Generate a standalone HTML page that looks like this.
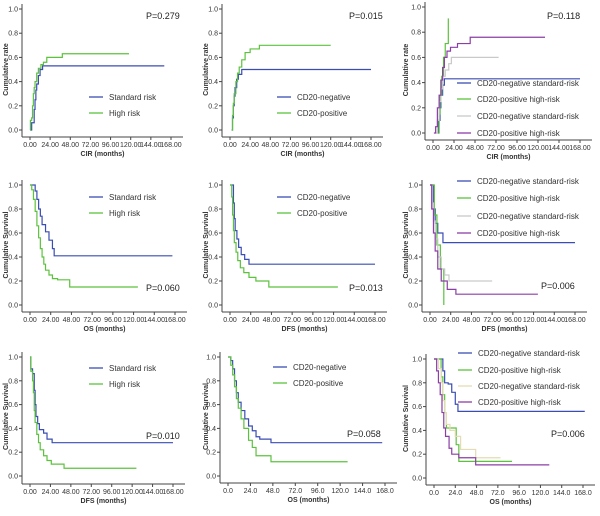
<!DOCTYPE html>
<html><head><meta charset="utf-8"><style>
body{margin:0;background:#fff}
svg text{font-family:"Liberation Sans",sans-serif}
</style></head><body>
<svg id="s" width="600" height="511" xmlns="http://www.w3.org/2000/svg"></svg>
<script>
const colors={b:'#3a4db3',g:'#5cc23e',gr:'#c9c9c9',p:'#8b3ea6',t:'#e3dcb4'};
const xTicksA=['0.00','24.00','48.00','72.00','96.00','120.00','144.00','168.00'];
const xTicksB=['0.0','24.0','48.0','72.0','96.0','120.0','144.0','168.0'];
const xTickVals=[0,24,48,72,96,120,144,168];
const yTickVals=[0,0.2,0.4,0.6,0.8,1.0];
// series data: [months, value]
const sA_std=[[0,0],[2,0.06],[4,0.06],[5,0.17],[6,0.25],[7,0.33],[8,0.38],[10,0.45],[12,0.5],[15,0.53],[160,0.53]];
const sA_high=[[0,0],[0.5,0.08],[2,0.1],[3,0.2],[4,0.3],[5,0.35],[6,0.4],[8,0.47],[10,0.51],[13,0.54],[16,0.56],[20,0.6],[38,0.6],[38.5,0.63],[118,0.63]];
const sB_neg=[[2,0],[3,0.1],[4,0.2],[5,0.28],[6,0.35],[8,0.42],[10,0.46],[14,0.5],[168,0.5]];
const sB_pos=[[2,0],[3,0.12],[4,0.22],[5,0.3],[7,0.4],[9,0.47],[11,0.52],[14,0.58],[18,0.64],[24,0.67],[35,0.7],[120,0.7]];
const sC_1=[[5,0],[6,0.1],[8,0.2],[9,0.3],[11,0.38],[13,0.43],[168,0.43]];
const sC_2=[[6,0],[7,0.15],[8,0.3],[10,0.45],[12,0.6],[14,0.71],[17,0.71],[17.5,0.91]];
const sC_3=[[3,0],[5,0.1],[7,0.25],[9,0.35],[11,0.45],[14,0.5],[18,0.55],[21,0.6],[75,0.6]];
const sC_4=[[1,0],[3,0.05],[5,0.2],[7,0.3],[9,0.42],[11,0.52],[13,0.6],[16,0.65],[20,0.68],[28,0.71],[42,0.71],[42.5,0.76],[128,0.76]];
const s21_std=[[0,1],[5,1],[6,0.95],[8,0.88],[10,0.8],[12,0.74],[14,0.67],[18,0.61],[22,0.54],[26,0.47],[28,0.41],[165,0.41]];
const s21_high=[[0,1],[2,0.96],[4,0.88],[6,0.78],[8,0.66],[10,0.56],[12,0.47],[14,0.4],[16,0.34],[18,0.29],[22,0.25],[26,0.22],[32,0.21],[46,0.15],[125,0.15]];
const s22_neg=[[0,1],[3,1],[4,0.85],[5,0.72],[6,0.62],[8,0.55],[10,0.48],[13,0.42],[17,0.38],[22,0.34],[168,0.34]];
const s22_pos=[[0,1],[2,0.9],[3,0.75],[4,0.62],[5,0.52],[7,0.44],[9,0.37],[12,0.31],[16,0.27],[22,0.23],[30,0.2],[45,0.15],[125,0.15]];
const s23_1=[[0,1],[3,1],[4,0.8],[6,0.68],[9,0.6],[15,0.52],[168,0.52]];
const s23_2=[[0,1],[3,1],[5,0.75],[8,0.5],[12,0.3],[16,0]];
const s23_3=[[0,1],[2,0.85],[4,0.7],[6,0.55],[9,0.4],[13,0.3],[17,0.25],[22,0.2],[72,0.2]];
const s23_4=[[0,1],[2,0.8],[4,0.6],[6,0.45],[9,0.3],[13,0.2],[20,0.13],[30,0.09],[125,0.09]];
const s31_std=[[0,1],[1,0.9],[3,0.86],[5,0.72],[6,0.6],[7,0.5],[9,0.44],[11,0.39],[16,0.36],[20,0.31],[26,0.28],[168,0.28]];
const s31_high=[[0,1],[1,0.88],[3,0.8],[4,0.7],[5,0.55],[6,0.45],[8,0.35],[10,0.28],[12,0.22],[16,0.17],[20,0.13],[25,0.1],[40,0.065],[125,0.065]];
const s32_neg=[[0,1],[3,0.97],[5,0.9],[7,0.8],[9,0.7],[11,0.62],[14,0.55],[18,0.48],[22,0.42],[26,0.38],[30,0.33],[34,0.31],[46,0.28],[165,0.28]];
const s32_pos=[[0,1],[3,0.93],[5,0.85],[7,0.75],[9,0.65],[11,0.57],[14,0.48],[17,0.4],[22,0.3],[26,0.24],[30,0.17],[46,0.12],[128,0.12]];
const s33_1=[[0,1],[8,1],[10,0.9],[12,0.8],[16,0.79],[20,0.72],[24,0.62],[27,0.56],[170,0.56]];
const s33_2=[[0,1],[6,1],[8,0.85],[10,0.7],[12,0.55],[14,0.42],[24,0.42],[25,0.28],[28,0.14],[88,0.14]];
const s33_3=[[0,1],[5,0.92],[8,0.8],[10,0.65],[12,0.55],[14,0.45],[18,0.4],[24,0.35],[30,0.24],[46,0.24],[47,0.17],[75,0.17]];
const s33_4=[[0,1],[3,0.9],[5,0.8],[7,0.7],[9,0.55],[11,0.42],[13,0.35],[17,0.25],[20,0.2],[28,0.17],[46,0.17],[47,0.11],[130,0.11]];

const panels=[
 {cx:0,y1:9,y0:130,xa:137,x0:30,x168:171,yl:'Cumulative rate',xl:'CIR (months)',xt:xTicksA,p:'P=0.279',px:146,py:19,
  s:[[sA_std,'b','Standard risk'],[sA_high,'g','High risk']],lx:89,ly:[97,113]},
 {cx:200,y1:9,y0:130,xa:137,x0:230,x168:371,yl:'Cumulative rate',xl:'CIR (months)',xt:xTicksA,p:'P=0.015',px:349,py:19,
  s:[[sB_neg,'b','CD20-negative'],[sB_pos,'g','CD20-positive']],lx:277,ly:[97,113]},
 {cx:400,y1:7,y0:133,xa:140,x0:433,x168:580,yl:'Cumulative rate',xl:'CIR (months)',xt:xTicksA,p:'P=0.118',px:547,py:19,
  s:[[sC_1,'b','CD20-negative standard-risk'],[sC_2,'g','CD20-positive high-risk'],[sC_3,'gr','CD20-negative standard-risk'],[sC_4,'p','CD20-positive high-risk']],lx:457,ly:[83,99,116,133]},
 {cx:0,y1:185,y0:305,xa:312,x0:30,x168:175,yl:'Cumulative Survival',xl:'OS (months)',xt:xTicksA,p:'P=0.060',px:146,py:291,
  s:[[s21_std,'b','Standard risk'],[s21_high,'g','High risk']],lx:89,ly:[197,213]},
 {cx:200,y1:185,y0:305,xa:312,x0:230,x168:375,yl:'Cumulative Survival',xl:'DFS (months)',xt:xTicksA,p:'P=0.013',px:349,py:291,
  s:[[s22_neg,'b','CD20-negative'],[s22_pos,'g','CD20-positive']],lx:277,ly:[197,213]},
 {cx:400,y1:185,y0:305,xa:312,x0:430,x168:575,yl:'Cumulative Survival',xl:'DFS (months)',xt:xTicksA,p:'P=0.006',px:541,py:289,
  s:[[s23_1,'b','CD20-negative standard-risk'],[s23_2,'g','CD20-positive high-risk'],[s23_3,'gr','CD20-negative standard-risk'],[s23_4,'p','CD20-positive high-risk']],lx:457,ly:[181,198,216,233]},
 {cx:0,y1:357,y0:476,xa:484,x0:30,x168:173,yl:'Cumulative Survival',xl:'DFS (months)',xt:xTicksA,p:'P=0.010',px:146,py:439,
  s:[[s31_std,'b','Standard risk'],[s31_high,'g','High risk']],lx:89,ly:[368,384]},
 {cx:200,y1:357,y0:476,xa:483,x0:228,x168:385,yl:'Cumulative Survival',xl:'OS (months)',xt:xTicksB,p:'P=0.058',px:347,py:437,
  s:[[s32_neg,'b','CD20-negative'],[s32_pos,'g','CD20-positive']],lx:273,ly:[367,383]},
 {cx:400,y1:359,y0:478,xa:485,x0:434,x168:583,yl:'Cumulative Survival',xl:'OS (months)',xt:xTicksB,p:'P=0.006',px:551,py:437,
  s:[[s33_1,'b','CD20-negative standard-risk'],[s33_2,'g','CD20-positive high-risk'],[s33_3,'t','CD20-negative standard-risk'],[s33_4,'p','CD20-positive high-risk']],lx:458,ly:[353,370,386,402]},
];
const NS='http://www.w3.org/2000/svg';
const svg=document.getElementById('s');
function mk(tag,attrs,parent,txt){const e=document.createElementNS(NS,tag);for(const k in attrs)e.setAttribute(k,attrs[k]);if(txt!==undefined)e.textContent=txt;parent.appendChild(e);return e;}
panels.forEach((P,i)=>{
  const g=mk('g',{},svg);
  
  
  const xs=t=>P.x0+(P.x168-P.x0)*t/168;
  const ys=v=>P.y0+(P.y1-P.y0)*v;
  const ax=P.x0-8;
  const yAxis=mk('line',{x1:ax,y1:P.y1-5,x2:ax,y2:P.xa,stroke:'#444','stroke-width':1},g);
  
  
  const xAxis=mk('line',{x1:ax,y1:P.xa,x2:P.x168+12,y2:P.xa,stroke:'#444','stroke-width':1},g);
  
  
  yTickVals.forEach(v=>{
    mk('line',{x1:ax-3,y1:ys(v),x2:ax,y2:ys(v),stroke:'#444'},g);
    const t=mk('text',{x:ax-4,y:ys(v)+2.5,'font-size':7,'text-anchor':'end',fill:'#333'},g,v.toFixed(1));
    
    
  });
  xTickVals.forEach((v,j)=>{
    mk('line',{x1:xs(v),y1:P.xa,x2:xs(v),y2:P.xa+3,stroke:'#444'},g);
    const t=mk('text',{x:xs(v),y:P.xa+10,'font-size':7,'text-anchor':'middle',fill:'#333'},g,P.xt[j]);
    
    
  });
  const xt=mk('text',{x:(ax+P.x168+12)/2,y:P.xa+19,'font-size':7,'font-weight':'bold','text-anchor':'middle',fill:'#333'},g,P.xl);
  
  
  const ym=(P.y1+P.y0)/2;
  const yt=mk('text',{x:P.cx+8,y:ym,'font-size':7,'font-weight':'bold','text-anchor':'middle',fill:'#333',transform:`rotate(-90 ${P.cx+8} ${ym})`},g,P.yl);
  
  
  P.s.forEach((S,k)=>{
    const d=S[0];let path='M'+xs(d[0][0])+' '+ys(d[0][1]);
    for(let m=1;m<d.length;m++){path+=' H'+xs(d[m][0])+' V'+ys(d[m][1]);}
    const pe=mk('path',{d:path,fill:'none',stroke:colors[S[1]],'stroke-width':1.2},g);
    
    
    const ly=P.ly[k];
    const lg=mk('g',{},g);
    
    
    mk('line',{x1:P.lx,y1:ly,x2:P.lx+14,y2:ly,stroke:colors[S[1]],'stroke-width':1.3},lg);
    mk('text',{x:P.lx+20,y:ly+3,'font-size':8,fill:'#333'},lg,S[2]);
  });
  const pt=mk('text',{x:P.px,y:P.py,'font-size':9,fill:'#222'},g,P.p);
  
  
});
</script>
</body></html>
